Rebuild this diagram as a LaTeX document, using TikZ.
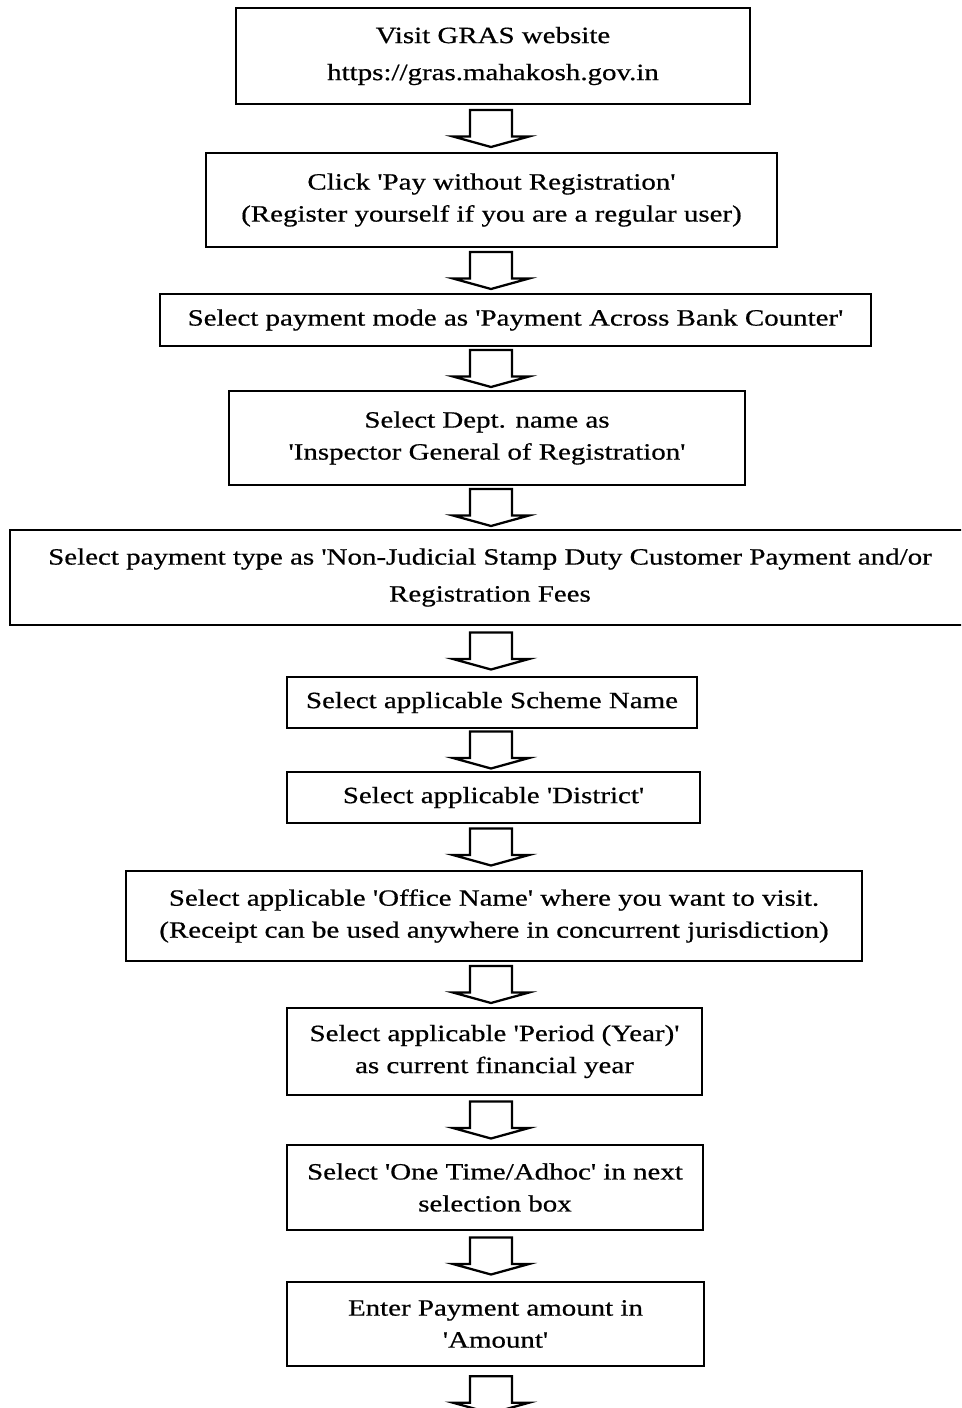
\documentclass[tikz,border=0pt]{standalone}
\usepackage{fontspec}
\defaultfontfeatures[\rmfamily]{}
\setmainfont[FakeStretch=1.24,FakeBold=0.6]{Liberation Serif}
\usetikzlibrary{positioning,calc}

\tikzset{
  stepbox/.style={draw,line width=1.8pt,align=center,inner sep=0pt,font=\fontsize{17.5}{24}\selectfont},
  widebox/.style={font=\fontsize{17.5}{27.75}\selectfont},
  pics/flowarrow/.style={code={
    \draw[line width=1.7pt,line join=miter] (-21,-18.5) -- (21,-18.5) -- (21,8) -- (38,8) -- (0,18.5) -- (-38,8) -- (-21,8) -- cycle;}}
}

\begin{document}
\begin{tikzpicture}[x=0.75pt,y=-0.75pt]
\clip (0,0) rectangle (961,1408);
\node[stepbox,widebox,minimum width=385.5pt,minimum height=72pt](1) at (493,56) {Visit GRAS website\\https://gras.mahakosh.gov.in};
\node[stepbox,minimum width=428.25pt,minimum height=70.5pt](2) at (491.5,200) {Click 'Pay without Registration'\\(Register yourself if you are a regular user)};
\node[stepbox,minimum width=533.25pt,minimum height=39pt](3) at (515.5,320) {Select payment mode as 'Payment Across Bank Counter'};
\node[stepbox,minimum width=387pt,minimum height=70.5pt](4) at (487,438) {Select Dept. name as\\'Inspector General of Registration'};
\node[stepbox,widebox,minimum width=720pt,minimum height=71.25pt](5) at (490,577.5) {Select payment type as 'Non-Judicial Stamp Duty Customer Payment and/or\\Registration Fees};
\node[stepbox,minimum width=307.5pt,minimum height=38.25pt](6) at (492,702.5) {Select applicable Scheme Name};
\node[stepbox,minimum width=309.75pt,minimum height=38.25pt](7) at (493.5,797.5) {Select applicable 'District'};
\node[stepbox,minimum width=552pt,minimum height=67.5pt](8) at (494,916) {Select applicable 'Office Name' where you want to visit.\\(Receipt can be used anywhere in concurrent jurisdiction)};
\node[stepbox,minimum width=311.25pt,minimum height=65.25pt](9) at (494.5,1051.5) {Select applicable 'Period (Year)'\\as current financial year};
\node[stepbox,minimum width=312pt,minimum height=63.75pt](10) at (495,1187.5) {Select 'One Time/Adhoc' in next\\selection box};
\node[stepbox,minimum width=312.75pt,minimum height=63pt](11) at (495.5,1324) {Enter Payment amount in\\'Amount'};
\coordinate (axis) at (491,0);
\foreach \a/\b in {1/2,2/3,3/4,4/5,5/6,6/7,7/8,8/9,9/10,10/11}{
  \coordinate (m) at ($(\a.south)!.5!(\b.north)$);
  \pic at (m -| axis) {flowarrow};
}
\coordinate (m) at ($(11.south)+(0,27.5)$);
\pic at (m -| axis) {flowarrow};
\end{tikzpicture}
\end{document}
